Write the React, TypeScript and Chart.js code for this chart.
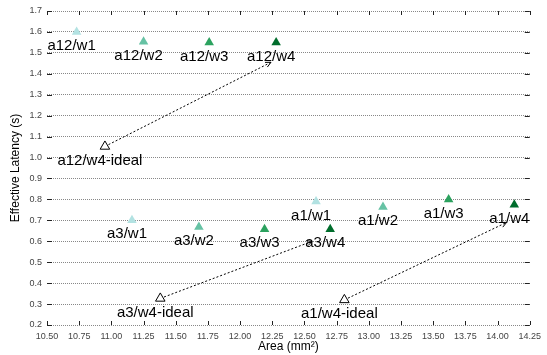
import React, { useEffect, useRef } from 'react';
import { Chart, registerables } from 'chart.js';

Chart.register(...registerables);

const configs = ['a12', 'a3', 'a1'];
const widths = ['w1', 'w2', 'w3', 'w4'];

const w1Area = [10.73, 11.16, 12.59];
const w1Latency = [1.6, 0.7, 0.79];
const w2Area = [11.25, 11.68, 13.11];
const w2Latency = [1.553, 0.668, 0.764];
const w3Area = [11.76, 12.19, 13.62];
const w3Latency = [1.55, 0.658, 0.8];
const w4Area = [12.28, 12.7, 14.13];
const w4Latency = [1.55, 0.658, 0.774];

const idealArea = [10.95, 11.38, 12.81];
const idealLatency = [1.053, 0.327, 0.32];

const arrowEndArea = [12.24, 12.56, 14.07];
const arrowEndLatency = [1.455, 0.6, 0.69];

const xTicks = [10.5, 10.75, 11.0, 11.25, 11.5, 11.75, 12.0, 12.25, 12.5, 12.75, 13.0, 13.25, 13.5, 13.75, 14.0, 14.25];
const yTicks = [0.2, 0.3, 0.4, 0.5, 0.6, 0.7, 0.8, 0.9, 1.0, 1.1, 1.2, 1.3, 1.4, 1.5, 1.6, 1.7];

const widthColors = ['#b2e2e2', '#66c2a4', '#2ca25f', '#006d2c'];

const areaSeries = [w1Area, w2Area, w3Area, w4Area];
const latencySeries = [w1Latency, w2Latency, w3Latency, w4Latency];

const FONT = "'Liberation Sans', Arial, Helvetica, sans-serif";

const decorPlugin = {
  id: 'decor',
  afterDatasetsDraw(chart: any) {
    const { ctx, chartArea, scales } = chart;
    const { left, right, top, bottom } = chartArea;
    const x = scales.x;
    const y = scales.y;
    ctx.save();
    // inner tick marks
    ctx.strokeStyle = '#222';
    ctx.lineWidth = 1;
    ctx.beginPath();
    xTicks.forEach((v) => {
      const px = Math.round(x.getPixelForValue(v)) + 0.5;
      ctx.moveTo(px, bottom);
      ctx.lineTo(px, bottom - 4);
      ctx.moveTo(px, top);
      ctx.lineTo(px, top + 4);
    });
    yTicks.forEach((v) => {
      const py = Math.round(y.getPixelForValue(v)) + 0.5;
      ctx.moveTo(left, py);
      ctx.lineTo(left + 5, py);
      ctx.moveTo(right, py);
      ctx.lineTo(right - 5, py);
    });
    ctx.stroke();

    // arrow heads
    ctx.strokeStyle = '#000';
    ctx.setLineDash([]);
    configs.forEach((_, i) => {
      const sx = x.getPixelForValue(idealArea[i]);
      const sy = y.getPixelForValue(idealLatency[i]);
      const ex = x.getPixelForValue(arrowEndArea[i]);
      const ey = y.getPixelForValue(arrowEndLatency[i]);
      const ang = Math.atan2(ey - sy, ex - sx);
      const len = 6;
      ctx.beginPath();
      ctx.moveTo(ex - len * Math.cos(ang - 0.45), ey - len * Math.sin(ang - 0.45));
      ctx.lineTo(ex, ey);
      ctx.lineTo(ex - len * Math.cos(ang + 0.45), ey - len * Math.sin(ang + 0.45));
      ctx.stroke();
    });

    // point labels
    ctx.fillStyle = '#000';
    ctx.font = `15px ${FONT}`;
    ctx.textAlign = 'center';
    ctx.textBaseline = 'middle';
    widths.forEach((w, wi) => {
      configs.forEach((c, ci) => {
        const px = x.getPixelForValue(areaSeries[wi][ci]);
        const py = y.getPixelForValue(latencySeries[wi][ci]);
        ctx.fillText(`${c}/${w}`, px - 5, py + 14);
      });
    });
    configs.forEach((c, ci) => {
      const px = x.getPixelForValue(idealArea[ci]);
      const py = y.getPixelForValue(idealLatency[ci]);
      ctx.fillText(`${c}/w4-ideal`, px - 5, py + 14);
    });
    ctx.restore();
  },
};

export default function App() {
  const canvasRef = useRef<HTMLCanvasElement | null>(null);

  useEffect(() => {
    document.body.style.margin = '0';
    const canvas = canvasRef.current;
    if (!canvas) return;

    const arrowDatasets = configs.map((c, i) => ({
      type: 'line' as const,
      label: `${c} arrow`,
      data: [
        { x: idealArea[i], y: idealLatency[i] },
        { x: arrowEndArea[i], y: arrowEndLatency[i] },
      ],
      borderColor: '#000',
      borderWidth: 1,
      borderDash: [2, 2],
      pointRadius: 0,
      fill: false,
      order: 3,
    }));

    const pointDatasets = widths.map((w, wi) => ({
      type: 'scatter' as const,
      label: w,
      data: configs.map((_, ci) => ({ x: areaSeries[wi][ci], y: latencySeries[wi][ci] })),
      pointStyle: 'triangle',
      pointRadius: 5.5,
      backgroundColor: widthColors[wi],
      borderColor: widthColors[wi],
      borderWidth: 0,
      order: 2,
    }));

    const idealDataset = {
      type: 'scatter' as const,
      label: 'w4-ideal',
      data: configs.map((_, ci) => ({ x: idealArea[ci], y: idealLatency[ci] })),
      pointStyle: 'triangle',
      pointRadius: 5.5,
      backgroundColor: '#fff',
      borderColor: '#000',
      borderWidth: 1,
      order: 1,
    };

    const chart = new Chart(canvas, {
      type: 'scatter',
      data: { datasets: [...arrowDatasets, ...pointDatasets, idealDataset] as any },
      options: {
        animation: false,
        responsive: false,
        maintainAspectRatio: false,
        layout: { padding: { left: 0, right: 10, top: 11, bottom: 0 } },
        plugins: { legend: { display: false }, tooltip: { enabled: false } },
        scales: {
          x: {
            type: 'linear',
            min: 10.5,
            max: 14.25,
            afterBuildTicks: (scale: any) => {
              scale.ticks = xTicks.map((v) => ({ value: v }));
            },
            afterFit: (scale: any) => {
              scale.height = 30;
            },
            grid: { display: false, drawTicks: false },
            border: { display: false },
            ticks: {
              padding: 6,
              color: '#444',
              font: { family: FONT, size: 9 },
              maxRotation: 0,
              autoSkip: false,
              callback: (v: any) => Number(v).toFixed(2),
            },
            title: {
              display: true,
              text: 'Area (mm²)',
              color: '#000',
              font: { family: FONT, size: 12 },
              padding: { top: 0, bottom: 1 },
            },
          },
          y: {
            type: 'linear',
            min: 0.2,
            max: 1.7,
            afterBuildTicks: (scale: any) => {
              scale.ticks = yTicks.map((v) => ({ value: v }));
            },
            afterFit: (scale: any) => {
              scale.width = 47;
            },
            grid: { display: true, drawTicks: false, color: '#888', lineWidth: 1 },
            border: { display: false, dash: [1, 1] },
            ticks: {
              padding: 5,
              color: '#444',
              font: { family: FONT, size: 9 },
              autoSkip: false,
              callback: (v: any) => Number(v).toFixed(1),
            },
            title: {
              display: true,
              text: 'Effective Latency (s)',
              color: '#000',
              font: { family: FONT, size: 12 },
              padding: { top: 8, bottom: 0 },
            },
          },
        },
      },
      plugins: [decorPlugin],
    });

    return () => chart.destroy();
  }, []);

  return (
    <canvas
      ref={canvasRef}
      width={547}
      height={355}
      style={{ display: 'block', width: 547, height: 355 }}
    />
  );
}
